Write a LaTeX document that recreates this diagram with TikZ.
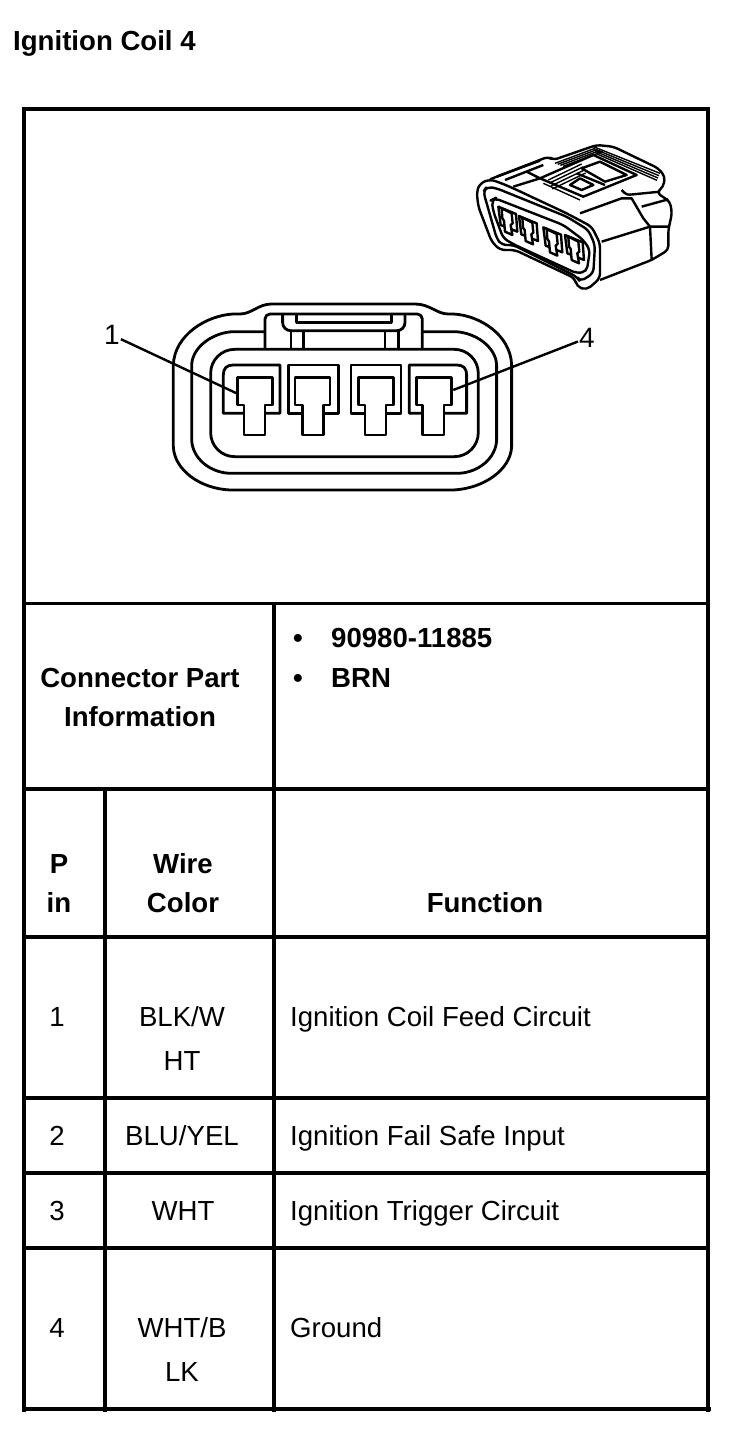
\documentclass[tikz,border=0pt]{standalone}
\usepackage{fontspec}
\setmainfont{Liberation Sans}
\tikzset{
  gridline/.style={line width=3.5pt,line cap=rect},
  shellline/.style={line width=2.8pt,line join=round},
  isoline/.style={line width=2.4pt,line join=round},
  hatchline/.style={line width=1.4pt},
  celltext/.style={inner sep=0pt,anchor=base,font=\fontsize{27.6}{44}\selectfont,align=center},
  celllead/.style={inner sep=0pt,anchor=base west,font=\fontsize{27.6}{44}\selectfont},
  headtext/.style={inner sep=0pt,anchor=base,font=\fontsize{27.6}{39}\selectfont\bfseries,align=center},
  headlead/.style={inner sep=0pt,anchor=base west,font=\fontsize{27.6}{39}\selectfont\bfseries},
  pinlabel/.style={inner sep=1pt,font=\fontsize{28}{30}\selectfont}
}
\begin{document}
\begin{tikzpicture}[x=1pt,y=-1pt]
    \useasboundingbox (0,0) rectangle (752,1432);
    % table lines
    \draw [gridline] (24,1410.5) -- (24,109) -- (708,109) -- (708,1410.5);
    \draw [gridline] (24,603.5) -- (708,603.5);
    \draw [gridline] (24,789) -- (708,789);
    \draw [gridline] (24,937) -- (708,937);
    \draw [gridline] (24,1098) -- (708,1098);
    \draw [gridline] (24,1173) -- (708,1173);
    \draw [gridline] (24,1248) -- (708,1248);
    \draw [gridline] (24,1409) -- (709,1409);
    \draw [gridline] (105,789) -- (105,1410.5);
    \draw [gridline] (274,603.5) -- (274,1410.5);
    % big connector, numbers are 3x crop pixels
    \begin{scope}[shift={(90,290)},x=0.3333pt,y=-0.3333pt]
        \draw [shellline] (545,42) -- (975,42) .. controls (1020,42) and (1040,72) .. (1075,72) -- (1090,72)
            .. controls (1170,76) and (1262,135) .. (1265,225) -- (1265,470)
            .. controls (1262,540) and (1180,596) .. (1090,600) -- (420,600)
            .. controls (330,596) and (253,540) .. (250,470) -- (250,225)
            .. controls (253,135) and (350,76) .. (430,72) -- (450,72)
            .. controls (485,72) and (505,42) .. (545,42) -- cycle;
        \draw [shellline] (525,125) -- (430,125) .. controls (370,127) and (307,170) .. (305,225) -- (305,450)
            .. controls (307,505) and (360,548) .. (420,550) -- (1105,550)
            .. controls (1165,548) and (1218,505) .. (1220,450) -- (1220,225)
            .. controls (1218,170) and (1155,127) .. (1095,125) -- (997,125);
        \draw [shellline,rounded corners=24pt] (700,178) -- (362,178) -- (362,500) -- (1165,500) -- (1165,178) -- cycle;
        % latch
        \draw [shellline,rounded corners=5pt] (525,178) -- (525,72) -- (997,72) -- (997,178);
        \draw [shellline,rounded corners=8pt] (578,72) -- (578,122) -- (945,122) -- (945,72);
        \draw [shellline] (620,72) -- (620,97) -- (905,97) -- (905,72);
        \draw [shellline] (603,122) -- (603,178) (640,122) -- (640,178);
        \draw [shellline] (885,122) -- (885,178) (925,122) -- (925,178);
        % cavities
        \draw [shellline] (462,370) -- (400,370) -- (400,255) .. controls (400,235) and (410,225) .. (430,225) -- (570,225) -- (570,370) -- (525,370);
        \draw [shellline] (637,370) -- (595,370) -- (595,225) -- (745,225) -- (745,370) -- (700,370);
        \draw [shellline] (825,370) -- (783,370) -- (783,225) -- (933,225) -- (933,370) -- (888,370);
        \draw [shellline] (998,370) -- (958,370) -- (958,225) -- (1100,225) .. controls (1120,225) and (1130,235) .. (1130,255) -- (1130,370) -- (1062,370);
        % terminals
        \foreach \tl/\tr/\sl/\sr in {443/548/462/525,615/720/637/700,806/910/825/888,980/1085/998/1062} {
            \draw [shellline,fill=white] (\tl,262) -- (\tr,262) -- (\tr,345) -- (\sr,345) -- (\sr,435)
                -- (\sl,435) -- (\sl,345) -- (\tl,345) -- cycle;
        }
        \coordinate (pinone) at (440,310);
        \coordinate (pinfour) at (1090,300);
    \end{scope}
    \path (112,335) node [pinlabel] (labelone) {1}
          (587,338) node [pinlabel] (labelfour) {4};
    \draw [shellline,line width=2.4pt] (labelone) -- (pinone);
    \draw [shellline,line width=2.4pt] (labelfour) -- (pinfour);
    % small connector view, numbers are 3x crop pixels
    \begin{scope}[shift={(460,130)},x=0.3333pt,y=-0.3333pt]
        % body
        \draw [isoline,rounded corners=4pt] (90,148) -- (265,80) -- (280,90) -- (410,45) -- (460,50) -- (595,115) -- (615,140) -- (610,170) -- (590,188)
            -- (630,215) -- (636,250) -- (625,300) -- (625,360) -- (575,390) -- (420,450);
        \draw [isoline] (360,250) -- (485,205) -- (515,205) -- (550,265) -- (570,290) -- (575,388);
        \draw [isoline] (425,335) -- (570,290) -- (625,290);
        \draw [isoline,rounded corners=3pt] (485,180) -- (500,195) -- (600,185);
        \draw [isoline] (545,230) -- (625,208);
        % left lobe
        \draw [isoline] (110,140) -- (240,92) (135,150) -- (250,105) (160,170) -- (240,145);
        \draw [isoline] (240,145) -- (200,125);
        % window on top
        \draw [isoline] (240,145) -- (400,75) -- (530,135) -- (370,200) -- cycle;
        \draw [isoline] (330,165) -- (360,145) -- (400,165) -- (365,180) -- cycle;
        \draw [isoline] (365,115) -- (420,95) -- (500,135) -- (435,155) -- cycle;
        \draw [isoline] (350,130) -- (435,165);
        % ribs round the window
        \foreach \i in {0,...,3} {
            \draw [hatchline] ({400+\i*3},{50+\i*7}) -- ({600-\i*3},{130+\i*7});
            \draw [hatchline] ({265+\i*4},{150+\i*9}) -- ({365+\i*4},{102+\i*9});
            \draw [hatchline] ({285+\i*8},{100+\i*3}) -- ({405+\i*8},{55+\i*3});
        }
        \draw [hatchline] (250,160) -- (360,210);
        % front flange
        \draw [isoline,fill=white,rounded corners=5pt] (50,185) -- (60,160) -- (90,148) -- (125,160) -- (160,175) -- (320,250) -- (395,290) -- (420,340)
            -- (420,445) -- (380,480) -- (350,470) -- (345,445) -- (165,360) -- (120,360) -- (95,335) -- (55,230) -- cycle;
        \draw [isoline,rounded corners=5pt] (70,185) -- (80,170) -- (110,175) -- (320,260) -- (385,300) -- (405,345)
            -- (400,430) -- (360,455) -- (350,440) -- (160,345) -- (125,345) -- (110,325) -- cycle;
        \draw [isoline,rounded corners=5pt] (95,210) -- (105,205) -- (310,285) -- (370,330) -- (390,360)
            -- (380,425) -- (350,430) -- (165,345) -- (130,325) -- (100,245) -- cycle;
        % terminals
        \foreach \dx/\dy in {0/0,62/28,135/62,200/85} {
            \begin{scope}[xshift=\dx*0.3333pt,yshift=-\dy*0.3333pt]
                \draw [isoline] (115,230) -- (168,252) -- (172,305) -- (122,285) -- cycle;
                \draw [isoline,fill=white] (125,235) -- (155,250) -- (158,280) -- (152,285) -- (157,315)
                    -- (135,305) -- (132,272) -- (127,265) -- cycle;
            \end{scope}
        }
    \end{scope}
    % texts
    \path (13,50) node [headlead] (title) {Ignition Coil 4};
    \path (140,726) node [headtext] (partinfo) {Connector Part\\Information};
    \path (298,647) node [headtext] (bulletone) {•}
          (298,687) node [headtext] (bullettwo) {•}
          (331,647) node [headlead] (partnumber) {90980-11885}
          (331,687) node [headlead] (partcolor) {BRN};
    \path (59,912) node [headtext] (pinhead) {P\\in}
          (183,912) node [headtext] (wirehead) {Wire\\Color}
          (485,912) node [headtext] (funchead) {Function};
    \path (57,1026) node [celltext] (pinA) {1}
          (182,1070) node [celltext] (wireA) {BLK/W\\HT}
          (290,1026) node [celllead] (funcA) {Ignition Coil Feed Circuit};
    \path (57,1145) node [celltext] (pinB) {2}
          (182,1145) node [celltext] (wireB) {BLU/YEL}
          (290,1145) node [celllead] (funcB) {Ignition Fail Safe Input};
    \path (57,1220) node [celltext] (pinC) {3}
          (183,1220) node [celltext] (wireC) {WHT}
          (290,1220) node [celllead] (funcC) {Ignition Trigger Circuit};
    \path (57,1337) node [celltext] (pinD) {4}
          (182,1381) node [celltext] (wireD) {WHT/B\\LK}
          (290,1337) node [celllead] (funcD) {Ground};
\end{tikzpicture}
\end{document}
